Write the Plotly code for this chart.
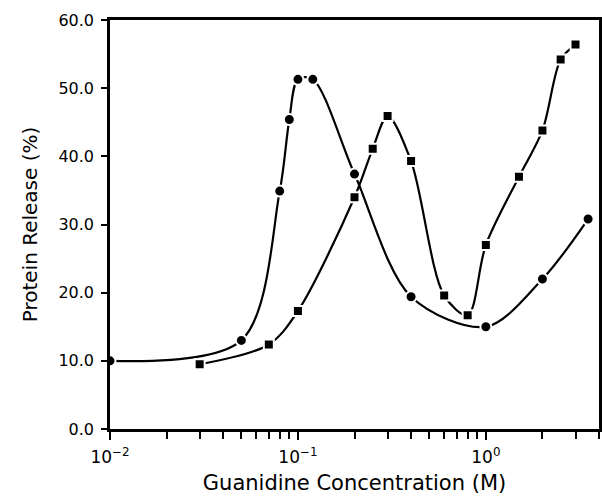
import plotly.graph_objects as go

# Data
circle_x = [0.01, 0.05, 0.08, 0.09, 0.10, 0.12, 0.20, 0.40, 1.0, 2.0, 3.5]
circle_y = [10.0, 13.0, 34.9, 45.4, 51.3, 51.3, 37.4, 19.4, 15.0, 22.0, 30.8]

square_x = [0.03, 0.07, 0.10, 0.20, 0.25, 0.30, 0.40, 0.60, 0.80, 1.0, 1.5, 2.0, 2.5, 3.0]
square_y = [9.5, 12.4, 17.3, 34.0, 41.1, 45.9, 39.3, 19.6, 16.7, 27.0, 37.0, 43.8, 54.2, 56.4]

x_major_vals = [0.01, 0.1, 1.0]
x_major_text = ["10<sup>−2</sup>", "10<sup>−1</sup>", "10<sup>0</sup>"]
x_minor_vals = [0.02, 0.03, 0.04, 0.05, 0.06, 0.07, 0.08, 0.09,
                0.2, 0.3, 0.4, 0.5, 0.6, 0.7, 0.8, 0.9,
                2, 3, 4]
y_tick_vals = [0, 10, 20, 30, 40, 50, 60]

FONT = "DejaVu Sans"

fig = go.Figure()
fig.add_trace(go.Scatter(
    x=circle_x, y=circle_y, mode="lines+markers",
    line=dict(color="black", width=2.2, shape="spline", smoothing=0.9),
    marker=dict(symbol="circle", size=11, color="black",
                line=dict(color="white", width=2)),
    showlegend=False,
))
fig.add_trace(go.Scatter(
    x=square_x, y=square_y, mode="lines+markers",
    line=dict(color="black", width=2.2, shape="spline", smoothing=0.9),
    marker=dict(symbol="square", size=10, color="black",
                line=dict(color="white", width=2)),
    showlegend=False,
))

fig.update_layout(
    width=602, height=496,
    margin=dict(l=110, r=3, t=20, b=67),
    paper_bgcolor="white", plot_bgcolor="white",
    font=dict(family=FONT, color="black", size=16),
    xaxis=dict(
        type="log", range=[-2, 0.602], automargin=False,
        tickmode="array", tickvals=x_major_vals, ticktext=x_major_text,
        ticks="outside", ticklen=8, tickwidth=1.5, tickcolor="black",
        minor=dict(tickmode="array", tickvals=x_minor_vals, ticks="outside",
                   ticklen=7, tickwidth=1.5, tickcolor="black", showgrid=False),
        showline=True, linewidth=2.5, linecolor="black", mirror=True,
        showgrid=False, zeroline=False, ticklabelstandoff=3,
        tickfont=dict(size=17, family=FONT),
        title=dict(text="Guanidine Concentration (M)", font=dict(size=21, family=FONT), standoff=10),
    ),
    yaxis=dict(
        range=[0, 60], tickmode="array", tickvals=y_tick_vals, tickformat=".1f",
        ticks="outside", ticklen=6, tickwidth=1.5, tickcolor="black",
        showline=True, linewidth=2.5, linecolor="black", mirror=True,
        showgrid=False, zeroline=False, automargin=False, ticklabelstandoff=4,
        tickfont=dict(size=16, family=FONT),
        title=dict(text="Protein Release (%)", font=dict(size=20, family=FONT), standoff=16),
    ),
)

# Remove the default page margin so the 602x496 figure fills the window exactly
fig.write_html(
    "out.html",
    config={"displayModeBar": False},
    post_script="document.body.style.margin='0';document.body.style.overflow='hidden';",
)
